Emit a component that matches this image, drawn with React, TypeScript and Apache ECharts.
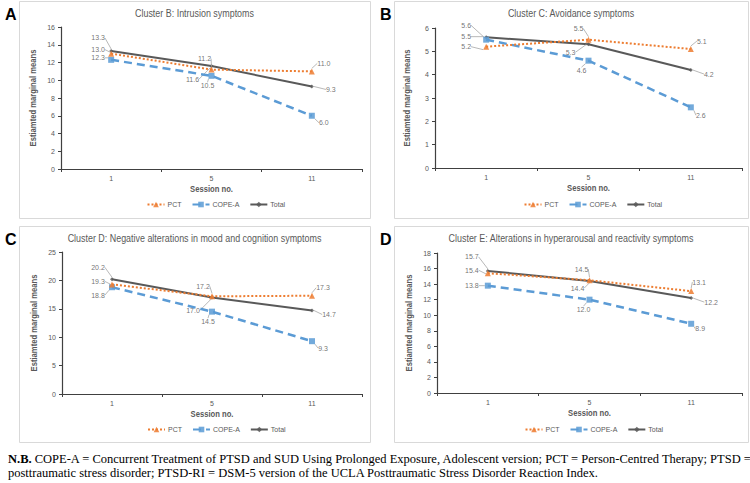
import React, { useEffect, useRef } from "react";
import * as echarts from "echarts";

const sessions = ["1", "5", "11"];
const seriesNames = ["PCT", "COPE-A", "Total"];

const titles = [
  "Cluster B: Intrusion symptoms",
  "Cluster C: Avoidance symptoms",
  "Cluster D: Negative alterations in mood and cognition symptoms",
  "Cluster E: Alterations in hyperarousal and reactivity symptoms",
];
const panelLetters = ["A", "B", "C", "D"];
const xAxisName = "Session no.";
const yAxisName = "Estiamted marginal means";

const pctB = [13.0, 11.2, 11.0];
const copeB = [12.3, 10.5, 6.0];
const totalB = [13.3, 11.6, 9.3];

const pctC = [5.2, 5.5, 5.1];
const copeC = [5.5, 4.6, 2.6];
const totalC = [5.6, 5.3, 4.2];

const pctD = [19.3, 17.2, 17.3];
const copeD = [18.8, 14.5, 9.3];
const totalD = [20.2, 17.0, 14.7];

const pctE = [15.4, 14.5, 13.1];
const copeE = [13.8, 12.0, 8.9];
const totalE = [15.7, 14.4, 12.2];

const yMax = [16, 6, 25, 18];
const yStep = [2, 1, 5, 2];

const footLine1Bold = "N.B.";
const footLine1 =
  " COPE-A = Concurrent Treatment of PTSD and SUD Using Prolonged Exposure, Adolescent version; PCT = Person-Centred Therapy; PTSD =";
const footLine2 =
  "posttraumatic stress disorder; PTSD-RI = DSM-5 version of the UCLA Posttraumatic Stress Disorder Reaction Index.";

// layout (pixels) kept apart from data
const panelBoxes = [
  { x: 19, y: 1, w: 351, h: 217 },
  { x: 394, y: 1, w: 354, h: 217 },
  { x: 19, y: 226, w: 351, h: 216 },
  { x: 394, y: 226, w: 354, h: 216 },
];
const grids = [
  { left: 61, top: 27, width: 301, height: 142 },
  { left: 435, top: 28, width: 307, height: 140 },
  { left: 62, top: 252, width: 300, height: 142 },
  { left: 437, top: 253, width: 305, height: 140 },
];
// label offsets [dx, dy] per panel, per series (PCT, COPE-A, Total), per point
const labelOffsets = [
  [
    [[-13, -4], [-7, -11], [12, -8]],
    [[-13, -2], [-4, 10], [12, 7]],
    [[-13, -13], [-19, 13], [19, 3]],
  ],
  [
    [[-20, 0], [-10, -11], [11, -8]],
    [[-20, -3], [-7, 10], [10, 8]],
    [[-20, -12], [-18, 8], [18, 4]],
  ],
  [
    [[-14, -3], [-9, -10], [11, -8]],
    [[-14, 8], [-4, 10], [11, 7]],
    [[-14, -12], [-19, 13], [17, 4]],
  ],
  [
    [[-16, -3], [-8, -11], [8, -9]],
    [[-16, 0], [-6, 10], [9, 5]],
    [[-16, -14], [-12, 7], [20, 4]],
  ],
];

const panelData = [
  [pctB, copeB, totalB],
  [pctC, copeC, totalC],
  [pctD, copeD, totalD],
  [pctE, copeE, totalE],
];

const seriesStyles = [
  { color: "#ED7D31", type: "dotted", width: 2, symbol: "triangle", size: 6 },
  { color: "#5B9BD5", type: [8, 5], width: 2.5, symbol: "rect", size: 6 },
  { color: "#595959", type: "solid", width: 2, symbol: "diamond", size: 4 },
];

const SANS = "'Liberation Sans', Arial, sans-serif";
const GREY = "#595959";
const SERIF = "'Liberation Serif', 'Times New Roman', serif";

export default function App() {
  const ref = useRef<HTMLDivElement>(null);
  useEffect(() => {
    if (!ref.current) return;
    const chart = echarts.init(ref.current, undefined, { renderer: "svg" });

    const xAxis: any[] = [];
    const yAxis: any[] = [];
    const series: any[] = [];
    const legend: any[] = [];
    const graphic: any[] = [];

    grids.forEach((g, i) => {
      const box = panelBoxes[i];
      const gridCx = g.left + g.width / 2;
      const gridCy = g.top + g.height / 2;
      xAxis.push({
        type: "category",
        gridIndex: i,
        data: sessions,
        boundaryGap: true,
        axisLine: { lineStyle: { color: "#404040", width: 1.2 } },
        axisTick: { show: true, length: 3, lineStyle: { color: "#404040" } },
        axisLabel: { color: GREY, fontSize: 7, margin: 6, fontFamily: SANS },
      });
      yAxis.push({
        type: "value",
        gridIndex: i,
        min: 0,
        max: yMax[i],
        interval: yStep[i],
        axisLine: { show: true, lineStyle: { color: "#404040", width: 1.2 } },
        axisTick: { show: true, length: 3, lineStyle: { color: "#404040" } },
        splitLine: { show: false },
        axisLabel: { color: GREY, fontSize: 7, margin: 6, fontFamily: SANS },
      });
      legend.push({
        data: seriesNames,
        left: gridCx - 65,
        top: box.y + 200,
        padding: 0,
        orient: "horizontal",
        itemWidth: 17,
        itemHeight: 7,
        itemGap: 10,
        textStyle: { color: GREY, fontSize: 7, fontFamily: SANS, padding: [0, 0, 0, -2] },
        selectedMode: false,
      });
      graphic.push({
        type: "rect",
        shape: { x: box.x + 0.5, y: box.y + 0.5, width: box.w, height: box.h },
        style: { fill: "none", stroke: "#D9D9D9", lineWidth: 1 },
        silent: true,
        z: -1,
      });
      graphic.push({
        type: "text",
        x: box.x - 14,
        y: box.y + 5,
        style: {
          text: panelLetters[i],
          font: "bold 16px 'Liberation Sans', Arial, sans-serif",
          fill: "#000",
        },
      });
      // title (narrow font emulation)
      graphic.push({
        type: "text",
        x: box.x + box.w / 2,
        y: box.y + 12,
        scaleX: 0.85,
        style: {
          text: titles[i],
          font: "10.5px 'Liberation Sans', Arial, sans-serif",
          fill: GREY,
          align: "center",
          verticalAlign: "middle",
        },
      });
      // x-axis name
      graphic.push({
        type: "text",
        x: gridCx,
        y: g.top + g.height + 20,
        scaleX: 0.85,
        style: {
          text: xAxisName,
          font: "bold 9px 'Liberation Sans', Arial, sans-serif",
          fill: GREY,
          align: "center",
          verticalAlign: "middle",
        },
      });
      // y-axis name
      graphic.push({
        type: "text",
        x: g.left - 28,
        y: gridCy,
        rotation: Math.PI / 2,
        scaleX: 0.85,
        style: {
          text: yAxisName,
          font: "bold 9px 'Liberation Sans', Arial, sans-serif",
          fill: GREY,
          align: "center",
          verticalAlign: "middle",
        },
      });

      panelData[i].forEach((vals, s) => {
        const st = seriesStyles[s];
        const offs = labelOffsets[i][s];
        series.push({
          type: "line",
          name: seriesNames[s],
          xAxisIndex: i,
          yAxisIndex: i,
          data: vals,
          symbol: st.symbol,
          symbolSize: st.size,
          showSymbol: true,
          color: st.color,
          itemStyle: { color: st.color, opacity: 0.85 },
          lineStyle: { color: st.color, width: st.width, type: st.type },
          label: {
            show: true,
            position: "inside",
            color: GREY,
            fontSize: 7,
            fontFamily: SANS,
            formatter: (p: any) => Number(p.value).toFixed(1),
          },
          labelLine: { show: true, lineStyle: { color: "#A6A6A6", width: 0.8 } },
          labelLayout: (p: any) => ({ dx: offs[p.dataIndex][0], dy: offs[p.dataIndex][1] }),
          z: 3 - s,
        });
      });
    });

    graphic.push({
      type: "text",
      x: 8,
      y: 452,
      style: {
        text: "{b|" + footLine1Bold + "}" + footLine1,
        font: "12.5px " + SERIF,
        fill: "#000",
        rich: {
          b: { fontWeight: "bold", fontSize: 12.5, fontFamily: SERIF, fill: "#000" },
        },
      },
    });
    graphic.push({
      type: "text",
      x: 8,
      y: 466,
      style: {
        text: footLine2,
        font: "12.5px " + SERIF,
        fill: "#000",
      },
    });

    chart.setOption({
      animation: false,
      backgroundColor: "#fff",
      legend,
      grid: grids.map((g) => ({ ...g, containLabel: false })),
      xAxis,
      yAxis,
      series,
      graphic,
    });
    return () => chart.dispose();
  }, []);
  return (
    <div
      ref={ref}
      style={{ position: "fixed", left: 0, top: 0, width: 750, height: 483, background: "#fff" }}
    />
  );
}
